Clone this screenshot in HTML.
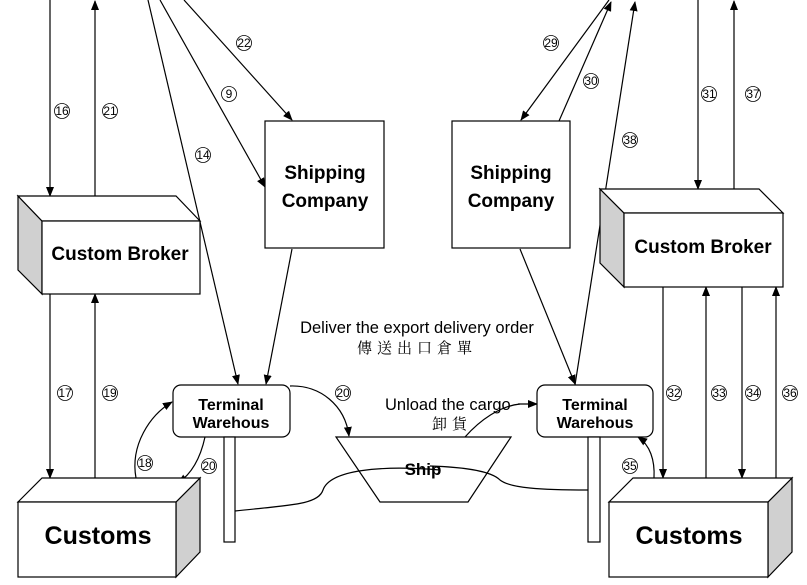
<!DOCTYPE html>
<html><head><meta charset="utf-8"><style>
html,body{margin:0;padding:0;background:#fff;}
svg{display:block;}
text{font-family:"Liberation Sans","DejaVu Sans",sans-serif;}
.b{font-family:"Liberation Sans","DejaVu Sans",sans-serif;font-weight:bold;}
.n{font-size:12px;}
</style></head><body>
<svg width="807" height="585" viewBox="0 0 807 585" xmlns="http://www.w3.org/2000/svg">
<defs>
<marker id="a" markerWidth="10" markerHeight="8" refX="9" refY="4" orient="auto" markerUnits="userSpaceOnUse">
<path d="M0,0 L10,4 L0,8 Z" fill="#000"/></marker>
</defs>
<g stroke="#000" stroke-width="1.2" fill="none">
<line x1="50" y1="0" x2="50" y2="196" marker-end="url(#a)"/>
<line x1="95" y1="196" x2="95" y2="1" marker-end="url(#a)"/>
<line x1="50" y1="294" x2="50" y2="478" marker-end="url(#a)"/>
<line x1="95" y1="478" x2="95" y2="294" marker-end="url(#a)"/>
<line x1="148" y1="0" x2="238" y2="384" marker-end="url(#a)"/>
<line x1="160" y1="0" x2="265" y2="187" marker-end="url(#a)"/>
<line x1="184" y1="0" x2="292" y2="120" marker-end="url(#a)"/>
<line x1="292" y1="249" x2="266" y2="384" marker-end="url(#a)"/>
<line x1="609" y1="0" x2="521" y2="120" marker-end="url(#a)"/>
<line x1="559" y1="121" x2="611" y2="2" marker-end="url(#a)"/>
<line x1="575" y1="385" x2="635" y2="2" marker-end="url(#a)"/>
<line x1="698" y1="0" x2="698" y2="189" marker-end="url(#a)"/>
<line x1="734" y1="189" x2="734" y2="1" marker-end="url(#a)"/>
<line x1="520" y1="249" x2="575" y2="384" marker-end="url(#a)"/>
<line x1="663" y1="287" x2="663" y2="478" marker-end="url(#a)"/>
<line x1="706" y1="478" x2="706" y2="287" marker-end="url(#a)"/>
<line x1="742" y1="287" x2="742" y2="478" marker-end="url(#a)"/>
<line x1="776" y1="478" x2="776" y2="287" marker-end="url(#a)"/>
<path d="M136,478 C130,445 150,415 172,402" marker-end="url(#a)"/>
<path d="M205,437 C200,460 190,475 178,483" marker-end="url(#a)"/>
<path d="M290,386 C320,385 345,405 349,436" marker-end="url(#a)"/>
<path d="M654,478 C655,460 650,445 638,437" marker-end="url(#a)"/>
<path d="M465,437 C480,420 500,406 520,404"/>
<line x1="518" y1="404" x2="537" y2="404" marker-end="url(#a)"/>
<path d="M235,511 C290,505 318,505 323,490 C330,470 380,465 440,470"/>
<path d="M588,490 C540,490 510,488 500,480 C490,470 460,467 430,466"/>
</g>
<g stroke="#000" stroke-width="1.2">
<polygon points="18,196 42,221 42,294 18,270" fill="#d0d0d0"/>
<polygon points="18,196 176,196 200,221 42,221" fill="#fff"/>
<rect x="42" y="221" width="158" height="73" fill="#fff"/>
<polygon points="176,502 200,478 200,552 176,577" fill="#d0d0d0"/>
<polygon points="18,502 42,478 200,478 176,502" fill="#fff"/>
<rect x="18" y="502" width="158" height="75" fill="#fff"/>
<polygon points="600,189 624,213 624,287 600,263" fill="#d0d0d0"/>
<polygon points="600,189 759,189 783,213 624,213" fill="#fff"/>
<rect x="624" y="213" width="159" height="74" fill="#fff"/>
<polygon points="768,502 792,478 792,552 768,577" fill="#d0d0d0"/>
<polygon points="609,502 633,478 792,478 768,502" fill="#fff"/>
<rect x="609" y="502" width="159" height="75" fill="#fff"/>
<rect x="265" y="121" width="119" height="127" fill="#fff"/>
<rect x="452" y="121" width="118" height="127" fill="#fff"/>
<rect x="173" y="385" width="117" height="52" rx="8" fill="#fff"/>
<rect x="537" y="385" width="116" height="52" rx="8" fill="#fff"/>
<rect x="224" y="437" width="11" height="105" fill="#fff"/>
<rect x="588" y="437" width="12" height="105" fill="#fff"/>
<polygon points="336,437 511,437 468,502 380,502" fill="none"/>
</g>
<g text-anchor="middle" class="b">
<text x="120" y="260" font-size="19">Custom Broker</text>
<text x="98" y="544" font-size="25">Customs</text>
<text x="703" y="253" font-size="19">Custom Broker</text>
<text x="689" y="544" font-size="25">Customs</text>
<text x="325" y="179" font-size="19">Shipping</text>
<text x="325" y="207" font-size="19">Company</text>
<text x="511" y="179" font-size="19">Shipping</text>
<text x="511" y="207" font-size="19">Company</text>
<text x="231" y="410" font-size="16">Terminal</text>
<text x="231" y="428" font-size="16">Warehous</text>
<text x="595" y="410" font-size="16">Terminal</text>
<text x="595" y="428" font-size="16">Warehous</text>
<text x="423" y="475" font-size="17">Ship</text>
</g>
<text x="417" y="333" font-size="16.5" text-anchor="middle">Deliver the export delivery order</text>
<text x="417" y="353" font-size="15" text-anchor="middle" style="font-family:'Noto Serif CJK SC',serif;letter-spacing:5px">傳送出口倉單</text>
<text x="385" y="410" font-size="16.5">Unload the cargo</text>
<text x="452" y="429" font-size="15" text-anchor="middle" style="font-family:'Noto Serif CJK SC',serif;letter-spacing:5px">卸貨</text>
<g class="n" text-anchor="middle">
<g fill="none" stroke="#000" stroke-width="0.8">
<circle cx="62" cy="111" r="7.5"/><circle cx="110" cy="111" r="7.5"/><circle cx="203" cy="155" r="7.5"/>
<circle cx="229" cy="94" r="7.5"/><circle cx="244" cy="43" r="7.5"/><circle cx="65" cy="393" r="7.5"/>
<circle cx="110" cy="393" r="7.5"/><circle cx="145" cy="463" r="7.5"/><circle cx="209" cy="466" r="7.5"/>
<circle cx="343" cy="393" r="7.5"/><circle cx="551" cy="43" r="7.5"/><circle cx="591" cy="81" r="7.5"/>
<circle cx="630" cy="140" r="7.5"/><circle cx="709" cy="94" r="7.5"/><circle cx="753" cy="94" r="7.5"/>
<circle cx="674" cy="393" r="7.5"/><circle cx="719" cy="393" r="7.5"/><circle cx="753" cy="393" r="7.5"/>
<circle cx="790" cy="393" r="7.5"/><circle cx="630" cy="466" r="7.5"/>
</g>
<text x="62" y="115">16</text><text x="110" y="115">21</text><text x="203" y="159">14</text>
<text x="229" y="98">9</text><text x="244" y="47">22</text><text x="65" y="397">17</text>
<text x="110" y="397">19</text><text x="145" y="467">18</text><text x="209" y="470">20</text>
<text x="343" y="397">20</text><text x="551" y="47">29</text><text x="591" y="85">30</text>
<text x="630" y="144">38</text><text x="709" y="98">31</text><text x="753" y="98">37</text>
<text x="674" y="397">32</text><text x="719" y="397">33</text><text x="753" y="397">34</text>
<text x="790" y="397">36</text><text x="630" y="470">35</text>
</g>
</svg>
</body></html>
